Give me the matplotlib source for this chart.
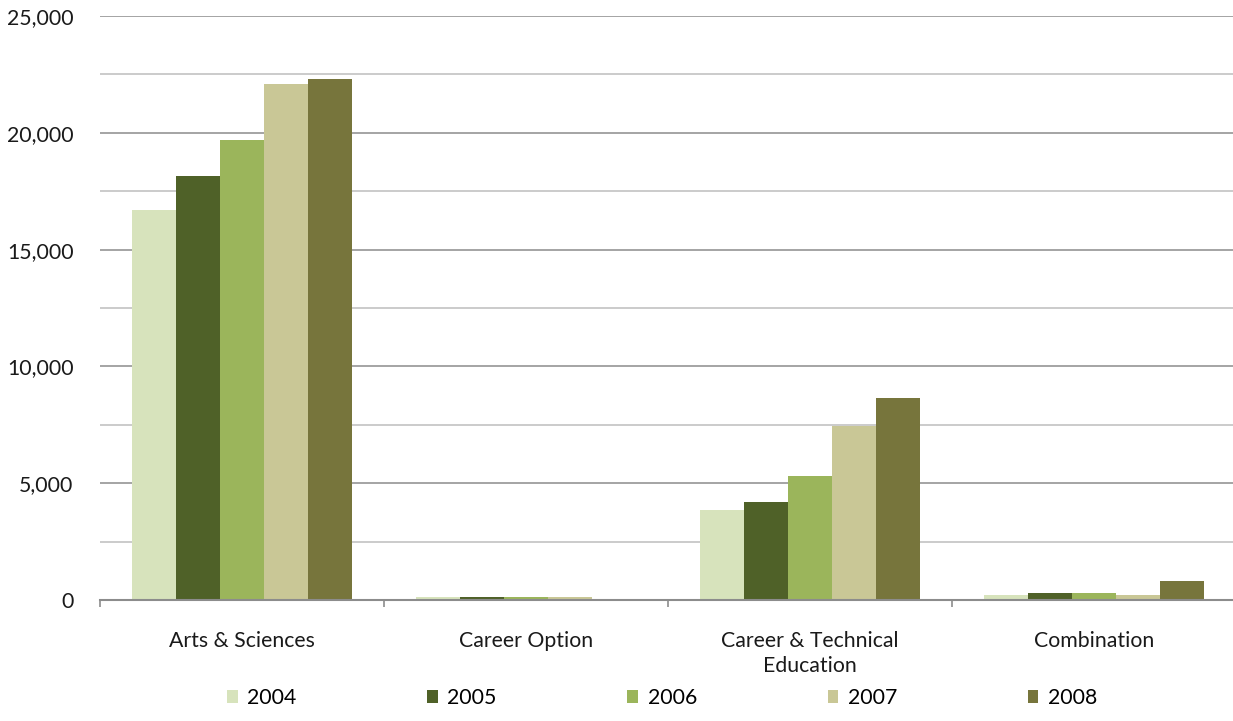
import matplotlib
matplotlib.use("Agg")
import matplotlib.pyplot as plt
import numpy as np
from matplotlib.patches import Patch

categories = ["Arts & Sciences", "Career Option", "Career & Technical\nEducation", "Combination"]
years = ["2004", "2005", "2006", "2007", "2008"]
v2004 = [16700, 110, 3850, 200]
v2005 = [18150, 130, 4200, 300]
v2006 = [19700, 130, 5300, 300]
v2007 = [22100, 120, 7470, 200]
v2008 = [22300, 0, 8650, 820]
series = [v2004, v2005, v2006, v2007, v2008]
colors = ["#D7E3BC", "#4F6128", "#9BB55B", "#C9C796", "#77753C"]

plt.rcParams['font.family'] = ['Lato', 'DejaVu Sans']
FS = 15.3

fig = plt.figure(figsize=(12.33, 7.21), dpi=100)
ax = fig.add_axes([100/1233, 1-600/721, 1136/1233, 584/721])

x = np.arange(len(categories))
w = 0.155
for i, (vals, c) in enumerate(zip(series, colors)):
    ax.bar(x + (i - 2) * w, vals, width=w, color=c, zorder=3, linewidth=0)

ax.set_xlim(-0.5, 3.5)
ax.set_ylim(0, 25000)
ax.set_yticks(np.arange(0, 25001, 5000))
ax.set_yticks(np.arange(2500, 25000, 5000), minor=True)
ax.set_yticklabels([f"{v:,}" for v in range(0, 25001, 5000)], fontsize=FS, color="#1a1a1a")
ax.tick_params(axis='y', which='both', length=0, pad=19)
ax.grid(axis='y', which='major', color='#8C8C8C', linewidth=1.1, zorder=0)
ax.grid(axis='y', which='minor', color='#BDBDBD', linewidth=1.1, zorder=0)

ax.set_xticks(x)
ax.set_xticklabels(categories, fontsize=FS, color="#1a1a1a", linespacing=1.35)
ax.set_xticks(np.arange(-0.5, 3.6, 1), minor=True)
ax.tick_params(axis='x', which='major', length=0, pad=22)
ax.tick_params(axis='x', which='minor', length=5, width=1.2, color='#8C8C8C', direction='out')

for s in ['left', 'right', 'top']:
    ax.spines[s].set_visible(False)
ax.spines['bottom'].set_color('#8C8C8C')
ax.spines['bottom'].set_linewidth(1.5)
ax.spines['bottom'].set_zorder(4)

handles = [Patch(facecolor=c, edgecolor='none') for c in colors]
fig.legend(handles, years, loc='center', bbox_to_anchor=(0.537, 1-698/721), ncol=5,
           frameon=False, fontsize=FS, handlelength=0.5, handleheight=0.6,
           handletextpad=0.45, columnspacing=6.15)

fig.savefig("out.png", dpi=100)
